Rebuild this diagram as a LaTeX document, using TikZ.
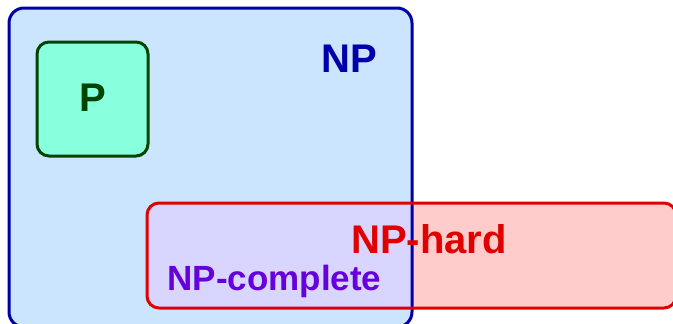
\documentclass[tikz,border=0pt]{standalone}
\usepackage{fontspec}
\setmainfont{Liberation Sans}
\begin{document}
\definecolor{npfill}{HTML}{CCE5FF}
\definecolor{npline}{HTML}{0000AA}
\definecolor{pfill}{HTML}{88FFDD}
\definecolor{pline}{HTML}{004400}
\definecolor{hardfill}{HTML}{FFCCCC}
\definecolor{hardline}{HTML}{E00000}
\definecolor{bothfill}{HTML}{D8D6FF}
\definecolor{compltext}{HTML}{6600DD}
\begin{tikzpicture}[x=1pt,y=-1pt,
  setbox/.style={rectangle,inner sep=0pt,outer sep=0pt},
  setlabel/.style={inner sep=0pt,anchor=base,font=\bfseries}]
\useasboundingbox (0,0) rectangle (673,324);
% set regions
\node[setbox,fill=npfill,rounded corners=15pt,minimum width=403pt,minimum height=319pt] (np) at (210.5,167.5) {};
\node[setbox,fill=pfill,draw=pline,line width=3pt,rounded corners=12pt,minimum width=111pt,minimum height=114pt] (p) at (92.5,99) {};
\node[setbox,fill=hardfill,rounded corners=12pt,minimum width=529pt,minimum height=105pt] (hard) at (411.5,255.5) {};
% NP-complete = NP intersected with NP-hard
\begin{scope}
  \clip[rounded corners=12pt] (hard.south west) rectangle (hard.north east);
  \fill[bothfill,rounded corners=15pt] (np.south west) rectangle (np.north east);
\end{scope}
% outlines
\draw[npline,line width=3pt,rounded corners=15pt] (np.south west) rectangle (np.north east);
\draw[hardline,line width=3pt,rounded corners=12pt] (hard.south west) rectangle (hard.north east);
% labels
\node[setlabel,text=npline,font=\bfseries\fontsize{40}{40}\selectfont] (nplabel) at (349.5,72) {NP};
\node[setlabel,text=pline,font=\bfseries\fontsize{40}{40}\selectfont] (plabel) at (93,111) {P};
\node[setlabel,text=hardline,font=\bfseries\fontsize{40}{40}\selectfont] (hardlabel) at (429,253) {NP-hard};
\node[setlabel,text=compltext,font=\bfseries\fontsize{35}{35}\selectfont] (compllabel) at (274.5,290) {NP-complete};
\end{tikzpicture}
\end{document}
